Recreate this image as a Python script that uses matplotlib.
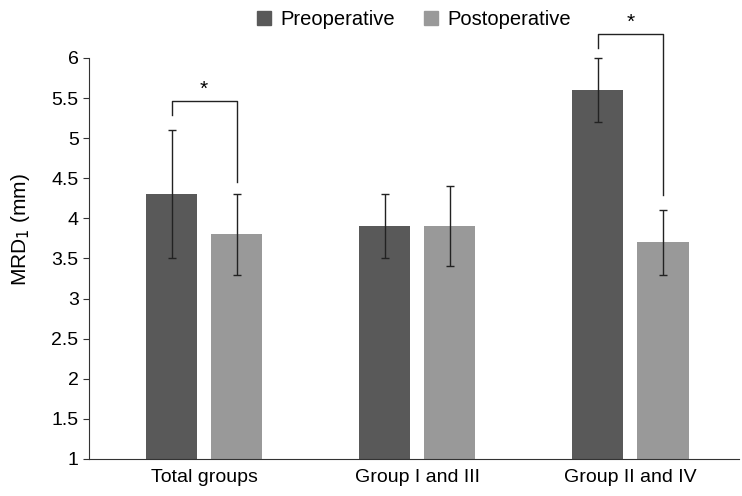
import numpy as np
import matplotlib.pyplot as plt
from matplotlib.patches import Patch

plt.rcParams['font.family'] = ['Liberation Sans', 'DejaVu Sans']

grupos = ["Total groups", "Group I and III", "Group II and IV"]
pre = [4.3, 3.9, 5.6]
pre_low = [3.5, 3.5, 5.2]
pre_high = [5.1, 4.3, 6.0]
post = [3.8, 3.9, 3.7]
post_low = [3.3, 3.4, 3.3]
post_high = [4.3, 4.4, 4.1]

cor_pre = "#595959"
cor_post = "#999999"

fig = plt.figure(figsize=(7.42, 4.96), dpi=100)
ax = fig.add_axes([0.12, 0.0746, 0.876, 0.925])

x = np.arange(len(grupos))
w = 0.24
d = 0.153
base = 1

pre_err = [np.array(pre) - np.array(pre_low), np.array(pre_high) - np.array(pre)]
post_err = [np.array(post) - np.array(post_low), np.array(post_high) - np.array(post)]

ax.bar(x - d, np.array(pre) - base, w, bottom=base, color=cor_pre)
ax.bar(x + d, np.array(post) - base, w, bottom=base, color=cor_post)
ax.errorbar(x - d, pre, yerr=pre_err, fmt="none", ecolor="#222222", elinewidth=1, capsize=3, capthick=1)
ax.errorbar(x + d, post, yerr=post_err, fmt="none", ecolor="#222222", elinewidth=1, capsize=3, capthick=1)

# colchetes de significancia
def colchete(i, topo, esq, dir):
    ax.plot([i - d, i - d, i + d, i + d], [esq, topo, topo, dir], color="#222222", lw=1)
    ax.text(i, topo + 0.03, "*", ha="center", va="bottom", fontsize=15)

colchete(0, 5.46, 5.29, 4.45)
colchete(2, 6.3, 6.12, 4.29)

ax.set_xlim(-0.54, 2.51)
ax.set_ylim(1, 6.72)
ax.set_yticks(np.arange(1, 6.01, 0.5))
ax.set_yticklabels(["1", "1.5", "2", "2.5", "3", "3.5", "4", "4.5", "5", "5.5", "6"])
ax.set_xticks(x)
ax.set_xticklabels(grupos)
ax.tick_params(axis="x", length=0, labelsize=14, pad=7)
ax.tick_params(axis="y", length=4, labelsize=14, color="#333333")
ax.spines["top"].set_visible(False)
ax.spines["right"].set_visible(False)
ax.spines["left"].set_bounds(1, 6)
ax.spines["left"].set_color("#333333")
ax.spines["bottom"].set_color("#333333")
ax.set_ylabel("MRD$_1$ (mm)", fontsize=15, labelpad=14)

handles = [Patch(color=cor_pre, label="Preoperative"), Patch(color=cor_post, label="Postoperative")]
fig.legend(handles=handles, loc="center", bbox_to_anchor=(0.558, 0.96), ncol=2, frameon=False,
           fontsize=14.5, handlelength=0.7, handleheight=0.7, handletextpad=0.5, columnspacing=1.4)

plt.savefig("out.png", dpi=100)
